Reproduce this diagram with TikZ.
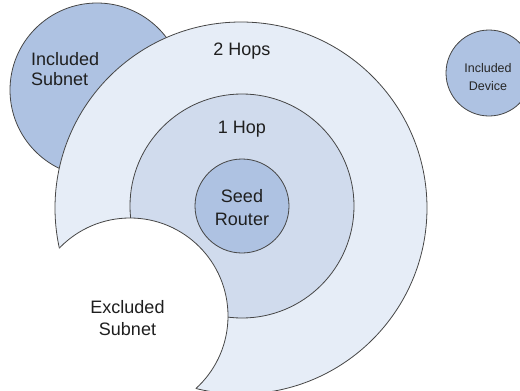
\documentclass[tikz,border=0pt]{standalone}
\usepackage{fontspec}
\setmainfont{Liberation Sans}
\definecolor{midblue}{RGB}{174,194,226}
\definecolor{hopone}{RGB}{208,219,237}
\definecolor{hoptwo}{RGB}{230,237,247}
\definecolor{edgegray}{RGB}{70,70,70}
\begin{document}
\begin{tikzpicture}[x=1pt,y=-1pt,
  zone/.style={circle, draw=edgegray, line width=0.8pt, inner sep=0pt, outer sep=0pt},
  lbl/.style={font=\fontsize{18}{20}\selectfont, inner sep=0pt, text=black!88},
  smalllbl/.style={font=\fontsize{12.5}{14}\selectfont, inner sep=0pt, text=black!85}]
\useasboundingbox (0,0) rectangle (520,391);
\clip (0,0) rectangle (520,391);
% circles
\node[zone, fill=midblue, minimum size=174pt] (isub) at (97,90) {};
\node[zone, fill=hoptwo, minimum size=372pt] (hop2) at (241,208) {};
\node[zone, fill=hopone, minimum size=224pt] (hop1) at (242,206) {};
\node[zone, fill=midblue, minimum size=94pt] (seed) at (242,206) {};
\node[circle, fill=white, minimum size=196pt, inner sep=0pt, outer sep=0pt] (excl) at (130,316) {};
\begin{scope}
  \clip (hop2.center) circle [radius=186pt];
  \draw[edgegray, line width=0.8pt] (excl.center) circle [radius=98pt];
\end{scope}
\node[zone, fill=midblue, minimum size=86pt] (idev) at (489,73) {};
% labels
\node[lbl, anchor=base west] (isubA) at (31,65) {Included};
\node[lbl, anchor=base west] (isubB) at (31,85) {Subnet};
\node[lbl, anchor=base] (hop2A) at (242,55) {2 Hops};
\node[lbl, anchor=base] (hop1A) at (242,133) {1 Hop};
\node[lbl, anchor=base] (seedA) at (242,202) {Seed};
\node[lbl, anchor=base] (seedB) at (242,225) {Router};
\node[lbl, anchor=base] (exclA) at (127.5,313) {Excluded};
\node[lbl, anchor=base] (exclB) at (127.5,335) {Subnet};
\node[smalllbl, anchor=base] (idevA) at (488,72) {Included};
\node[smalllbl, anchor=base] (idevB) at (488,90) {Device};
\end{tikzpicture}
\end{document}
